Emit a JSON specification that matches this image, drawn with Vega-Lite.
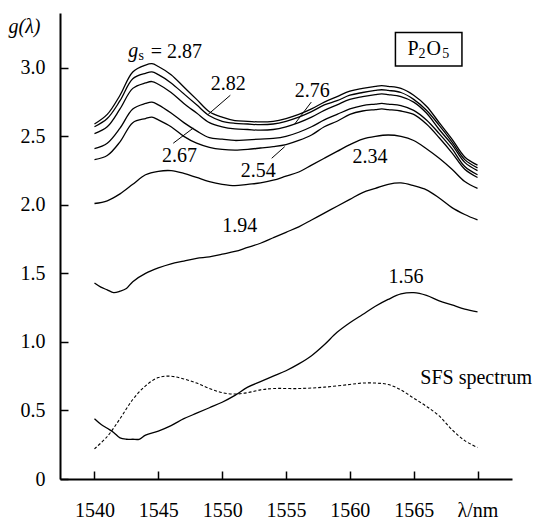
{
  "$schema": "https://vega.github.io/schema/vega-lite/v6.json",
  "width": 452,
  "height": 466,
  "autosize": {"type": "none"},
  "padding": {"left": 60, "top": 13, "right": 31, "bottom": 40},
  "background": "white",
  "config": {
    "view": {"stroke": null},
    "font": "Liberation Serif",
    "axis": {
      "domainColor": "black", "domainWidth": 2, "tickColor": "black", "tickWidth": 1.5,
      "tickSize": -8, "labelFontSize": 20, "labelColor": "black",
      "grid": false, "labelFlush": false, "labelOverlap": false,
      "titleColor": "black", "titleFontWeight": "normal"
    },
    "text": {"font": "Liberation Serif", "fontSize": 20, "color": "black"}
  },
  "datasets": {
    "curves": [
      {"s":"2.87","x":1540,"y":2.59},{"s":"2.87","x":1541,"y":2.66},{"s":"2.87","x":1542,"y":2.80},{"s":"2.87","x":1543,"y":2.97},{"s":"2.87","x":1544,"y":3.02},{"s":"2.87","x":1544.5,"y":3.03},{"s":"2.87","x":1545,"y":3.01},{"s":"2.87","x":1546,"y":2.95},{"s":"2.87","x":1547,"y":2.86},{"s":"2.87","x":1548,"y":2.77},{"s":"2.87","x":1549,"y":2.68},{"s":"2.87","x":1550,"y":2.64},{"s":"2.87","x":1551,"y":2.615},{"s":"2.87","x":1552,"y":2.61},{"s":"2.87","x":1553,"y":2.605},{"s":"2.87","x":1554,"y":2.61},{"s":"2.87","x":1555,"y":2.63},{"s":"2.87","x":1556,"y":2.66},{"s":"2.87","x":1557,"y":2.70},{"s":"2.87","x":1558,"y":2.75},{"s":"2.87","x":1559,"y":2.79},{"s":"2.87","x":1560,"y":2.83},{"s":"2.87","x":1561,"y":2.85},{"s":"2.87","x":1562,"y":2.865},{"s":"2.87","x":1562.5,"y":2.87},{"s":"2.87","x":1563,"y":2.865},{"s":"2.87","x":1564,"y":2.85},{"s":"2.87","x":1565,"y":2.80},{"s":"2.87","x":1566,"y":2.72},{"s":"2.87","x":1567,"y":2.60},{"s":"2.87","x":1568,"y":2.48},{"s":"2.87","x":1569,"y":2.35},{"s":"2.87","x":1570,"y":2.29},
      {"s":"2.82","x":1540,"y":2.57},{"s":"2.82","x":1541,"y":2.63},{"s":"2.82","x":1542,"y":2.76},{"s":"2.82","x":1543,"y":2.92},{"s":"2.82","x":1544,"y":2.96},{"s":"2.82","x":1544.5,"y":2.97},{"s":"2.82","x":1545,"y":2.95},{"s":"2.82","x":1546,"y":2.89},{"s":"2.82","x":1547,"y":2.81},{"s":"2.82","x":1548,"y":2.73},{"s":"2.82","x":1549,"y":2.65},{"s":"2.82","x":1550,"y":2.61},{"s":"2.82","x":1551,"y":2.595},{"s":"2.82","x":1552,"y":2.59},{"s":"2.82","x":1553,"y":2.585},{"s":"2.82","x":1554,"y":2.59},{"s":"2.82","x":1555,"y":2.61},{"s":"2.82","x":1556,"y":2.64},{"s":"2.82","x":1557,"y":2.68},{"s":"2.82","x":1558,"y":2.73},{"s":"2.82","x":1559,"y":2.76},{"s":"2.82","x":1560,"y":2.80},{"s":"2.82","x":1561,"y":2.82},{"s":"2.82","x":1562,"y":2.835},{"s":"2.82","x":1562.5,"y":2.84},{"s":"2.82","x":1563,"y":2.835},{"s":"2.82","x":1564,"y":2.82},{"s":"2.82","x":1565,"y":2.77},{"s":"2.82","x":1566,"y":2.69},{"s":"2.82","x":1567,"y":2.58},{"s":"2.82","x":1568,"y":2.46},{"s":"2.82","x":1569,"y":2.33},{"s":"2.82","x":1570,"y":2.27},
      {"s":"2.76","x":1540,"y":2.52},{"s":"2.76","x":1541,"y":2.57},{"s":"2.76","x":1542,"y":2.70},{"s":"2.76","x":1543,"y":2.85},{"s":"2.76","x":1544,"y":2.89},{"s":"2.76","x":1544.5,"y":2.90},{"s":"2.76","x":1545,"y":2.88},{"s":"2.76","x":1546,"y":2.82},{"s":"2.76","x":1547,"y":2.74},{"s":"2.76","x":1548,"y":2.67},{"s":"2.76","x":1549,"y":2.60},{"s":"2.76","x":1550,"y":2.57},{"s":"2.76","x":1551,"y":2.555},{"s":"2.76","x":1552,"y":2.55},{"s":"2.76","x":1553,"y":2.545},{"s":"2.76","x":1554,"y":2.55},{"s":"2.76","x":1555,"y":2.57},{"s":"2.76","x":1556,"y":2.60},{"s":"2.76","x":1557,"y":2.64},{"s":"2.76","x":1558,"y":2.69},{"s":"2.76","x":1559,"y":2.73},{"s":"2.76","x":1560,"y":2.77},{"s":"2.76","x":1561,"y":2.79},{"s":"2.76","x":1562,"y":2.805},{"s":"2.76","x":1562.5,"y":2.81},{"s":"2.76","x":1563,"y":2.805},{"s":"2.76","x":1564,"y":2.79},{"s":"2.76","x":1565,"y":2.75},{"s":"2.76","x":1566,"y":2.67},{"s":"2.76","x":1567,"y":2.55},{"s":"2.76","x":1568,"y":2.44},{"s":"2.76","x":1569,"y":2.31},{"s":"2.76","x":1570,"y":2.25},
      {"s":"2.67","x":1540,"y":2.41},{"s":"2.67","x":1541,"y":2.45},{"s":"2.67","x":1542,"y":2.56},{"s":"2.67","x":1543,"y":2.70},{"s":"2.67","x":1544,"y":2.74},{"s":"2.67","x":1544.5,"y":2.75},{"s":"2.67","x":1545,"y":2.73},{"s":"2.67","x":1546,"y":2.67},{"s":"2.67","x":1547,"y":2.60},{"s":"2.67","x":1548,"y":2.54},{"s":"2.67","x":1549,"y":2.49},{"s":"2.67","x":1550,"y":2.48},{"s":"2.67","x":1551,"y":2.47},{"s":"2.67","x":1552,"y":2.475},{"s":"2.67","x":1553,"y":2.48},{"s":"2.67","x":1554,"y":2.485},{"s":"2.67","x":1555,"y":2.50},{"s":"2.67","x":1556,"y":2.53},{"s":"2.67","x":1557,"y":2.57},{"s":"2.67","x":1558,"y":2.62},{"s":"2.67","x":1559,"y":2.66},{"s":"2.67","x":1560,"y":2.70},{"s":"2.67","x":1561,"y":2.725},{"s":"2.67","x":1562,"y":2.735},{"s":"2.67","x":1562.5,"y":2.74},{"s":"2.67","x":1563,"y":2.735},{"s":"2.67","x":1564,"y":2.725},{"s":"2.67","x":1565,"y":2.69},{"s":"2.67","x":1566,"y":2.62},{"s":"2.67","x":1567,"y":2.52},{"s":"2.67","x":1568,"y":2.41},{"s":"2.67","x":1569,"y":2.28},{"s":"2.67","x":1570,"y":2.22},
      {"s":"2.54","x":1540,"y":2.33},{"s":"2.54","x":1541,"y":2.36},{"s":"2.54","x":1542,"y":2.46},{"s":"2.54","x":1543,"y":2.60},{"s":"2.54","x":1544,"y":2.63},{"s":"2.54","x":1544.5,"y":2.64},{"s":"2.54","x":1545,"y":2.62},{"s":"2.54","x":1546,"y":2.57},{"s":"2.54","x":1547,"y":2.50},{"s":"2.54","x":1548,"y":2.45},{"s":"2.54","x":1549,"y":2.42},{"s":"2.54","x":1550,"y":2.405},{"s":"2.54","x":1551,"y":2.40},{"s":"2.54","x":1552,"y":2.405},{"s":"2.54","x":1553,"y":2.415},{"s":"2.54","x":1554,"y":2.425},{"s":"2.54","x":1555,"y":2.44},{"s":"2.54","x":1556,"y":2.47},{"s":"2.54","x":1557,"y":2.51},{"s":"2.54","x":1558,"y":2.57},{"s":"2.54","x":1559,"y":2.61},{"s":"2.54","x":1560,"y":2.66},{"s":"2.54","x":1561,"y":2.685},{"s":"2.54","x":1562,"y":2.695},{"s":"2.54","x":1562.5,"y":2.70},{"s":"2.54","x":1563,"y":2.695},{"s":"2.54","x":1564,"y":2.685},{"s":"2.54","x":1565,"y":2.66},{"s":"2.54","x":1566,"y":2.59},{"s":"2.54","x":1567,"y":2.49},{"s":"2.54","x":1568,"y":2.38},{"s":"2.54","x":1569,"y":2.26},{"s":"2.54","x":1570,"y":2.20},
      {"s":"2.34","x":1540,"y":2.01},{"s":"2.34","x":1541,"y":2.03},{"s":"2.34","x":1542,"y":2.08},{"s":"2.34","x":1543,"y":2.15},{"s":"2.34","x":1544,"y":2.22},{"s":"2.34","x":1545,"y":2.245},{"s":"2.34","x":1546,"y":2.25},{"s":"2.34","x":1547,"y":2.23},{"s":"2.34","x":1548,"y":2.20},{"s":"2.34","x":1549,"y":2.17},{"s":"2.34","x":1550,"y":2.15},{"s":"2.34","x":1551,"y":2.14},{"s":"2.34","x":1552,"y":2.15},{"s":"2.34","x":1553,"y":2.16},{"s":"2.34","x":1554,"y":2.18},{"s":"2.34","x":1555,"y":2.21},{"s":"2.34","x":1556,"y":2.24},{"s":"2.34","x":1557,"y":2.29},{"s":"2.34","x":1558,"y":2.34},{"s":"2.34","x":1559,"y":2.39},{"s":"2.34","x":1560,"y":2.44},{"s":"2.34","x":1561,"y":2.48},{"s":"2.34","x":1562,"y":2.50},{"s":"2.34","x":1563,"y":2.51},{"s":"2.34","x":1564,"y":2.50},{"s":"2.34","x":1565,"y":2.47},{"s":"2.34","x":1566,"y":2.41},{"s":"2.34","x":1567,"y":2.34},{"s":"2.34","x":1568,"y":2.26},{"s":"2.34","x":1569,"y":2.17},{"s":"2.34","x":1570,"y":2.12},
      {"s":"1.94","x":1540,"y":1.43},{"s":"1.94","x":1540.5,"y":1.40},{"s":"1.94","x":1541,"y":1.38},{"s":"1.94","x":1541.5,"y":1.36},{"s":"1.94","x":1542,"y":1.37},{"s":"1.94","x":1542.5,"y":1.39},{"s":"1.94","x":1543,"y":1.44},{"s":"1.94","x":1544,"y":1.50},{"s":"1.94","x":1545,"y":1.54},{"s":"1.94","x":1546,"y":1.57},{"s":"1.94","x":1547,"y":1.59},{"s":"1.94","x":1548,"y":1.61},{"s":"1.94","x":1549,"y":1.62},{"s":"1.94","x":1550,"y":1.64},{"s":"1.94","x":1551,"y":1.66},{"s":"1.94","x":1552,"y":1.69},{"s":"1.94","x":1553,"y":1.72},{"s":"1.94","x":1554,"y":1.76},{"s":"1.94","x":1555,"y":1.80},{"s":"1.94","x":1556,"y":1.84},{"s":"1.94","x":1557,"y":1.89},{"s":"1.94","x":1558,"y":1.94},{"s":"1.94","x":1559,"y":1.99},{"s":"1.94","x":1560,"y":2.04},{"s":"1.94","x":1561,"y":2.09},{"s":"1.94","x":1562,"y":2.12},{"s":"1.94","x":1563,"y":2.15},{"s":"1.94","x":1564,"y":2.16},{"s":"1.94","x":1565,"y":2.14},{"s":"1.94","x":1566,"y":2.11},{"s":"1.94","x":1567,"y":2.05},{"s":"1.94","x":1568,"y":1.98},{"s":"1.94","x":1569,"y":1.93},{"s":"1.94","x":1570,"y":1.89},
      {"s":"1.56","x":1540,"y":0.44},{"s":"1.56","x":1540.5,"y":0.40},{"s":"1.56","x":1541,"y":0.37},{"s":"1.56","x":1541.5,"y":0.34},{"s":"1.56","x":1542,"y":0.30},{"s":"1.56","x":1542.5,"y":0.29},{"s":"1.56","x":1543,"y":0.29},{"s":"1.56","x":1543.5,"y":0.29},{"s":"1.56","x":1544,"y":0.32},{"s":"1.56","x":1545,"y":0.35},{"s":"1.56","x":1546,"y":0.39},{"s":"1.56","x":1547,"y":0.44},{"s":"1.56","x":1548,"y":0.48},{"s":"1.56","x":1549,"y":0.52},{"s":"1.56","x":1550,"y":0.56},{"s":"1.56","x":1551,"y":0.61},{"s":"1.56","x":1552,"y":0.67},{"s":"1.56","x":1553,"y":0.71},{"s":"1.56","x":1554,"y":0.75},{"s":"1.56","x":1555,"y":0.79},{"s":"1.56","x":1556,"y":0.84},{"s":"1.56","x":1557,"y":0.90},{"s":"1.56","x":1558,"y":0.98},{"s":"1.56","x":1559,"y":1.07},{"s":"1.56","x":1560,"y":1.14},{"s":"1.56","x":1561,"y":1.20},{"s":"1.56","x":1562,"y":1.26},{"s":"1.56","x":1563,"y":1.31},{"s":"1.56","x":1564,"y":1.35},{"s":"1.56","x":1565,"y":1.36},{"s":"1.56","x":1566,"y":1.34},{"s":"1.56","x":1567,"y":1.30},{"s":"1.56","x":1568,"y":1.27},{"s":"1.56","x":1569,"y":1.24},{"s":"1.56","x":1570,"y":1.22}
    ],
    "sfs": [
      {"x":1540,"y":0.22},{"x":1541,"y":0.31},{"x":1542,"y":0.44},{"x":1543,"y":0.58},{"x":1544,"y":0.68},{"x":1545,"y":0.74},{"x":1546,"y":0.75},{"x":1547,"y":0.73},{"x":1548,"y":0.70},{"x":1549,"y":0.66},{"x":1550,"y":0.63},{"x":1551,"y":0.62},{"x":1552,"y":0.63},{"x":1553,"y":0.65},{"x":1554,"y":0.66},{"x":1556,"y":0.66},{"x":1558,"y":0.67},{"x":1560,"y":0.69},{"x":1561,"y":0.70},{"x":1562,"y":0.70},{"x":1563,"y":0.69},{"x":1564,"y":0.65},{"x":1565,"y":0.59},{"x":1566,"y":0.53},{"x":1567,"y":0.46},{"x":1568,"y":0.36},{"x":1569,"y":0.28},{"x":1570,"y":0.23}
    ],
    "pointers": [
      {"x":1550.64,"y":2.80,"x2":1548.9,"y2":2.66},
      {"x":1556.98,"y":2.75,"x2":1555.68,"y2":2.59},
      {"x":1546.17,"y":2.45,"x2":1547.73,"y2":2.56},
      {"x":1553.88,"y":2.34,"x2":1554.9,"y2":2.425}
    ],
    "labels": [
      {"t":"2.82","x":1550.48,"y":2.837},
      {"t":"2.76","x":1557.05,"y":2.79},
      {"t":"2.67","x":1546.66,"y":2.31},
      {"t":"2.54","x":1552.83,"y":2.20},
      {"t":"2.34","x":1561.58,"y":2.305},
      {"t":"1.94","x":1551.38,"y":1.805},
      {"t":"1.56","x":1564.4,"y":1.43}
    ],
    "leftlabels": [
      {"t":"= 2.87","x":1544.4,"y":3.07},
      {"t":"SFS spectrum","x":1565.52,"y":0.695},
      {"t":"P","x":1564.51,"y":3.0925},
      {"t":"O","x":1566.0,"y":3.0925}
    ],
    "italic": [{"t":"g","x":1542.64,"y":3.08}],
    "subs": [
      {"t":"s","x":1543.45,"y":3.06},
      {"t":"2","x":1565.37,"y":3.071},
      {"t":"5","x":1567.24,"y":3.071}
    ],
    "box": [{"x":1563.57,"x2":1568.78,"y":3.013,"y2":3.258}]
  },
  "layer": [
    {
      "data": {"name": "curves"},
      "mark": {"type": "line", "color": "black", "strokeWidth": 1.3, "interpolate": "catmull-rom"},
      "encoding": {
        "x": {"field": "x", "type": "quantitative",
          "scale": {"domain": [1537.3, 1572.7], "nice": false, "zero": false},
          "axis": {"values": [1540,1545,1550,1555,1560,1565,1570], "title": null, "labelPadding": 29,
            "labelFont": "Liberation Serif", "labelFontSize": 20, "format": "d",
            "labelExpr": "datum.value == 1570 ? 'λ/nm' : datum.label"}},
        "y": {"field": "y", "type": "quantitative",
          "scale": {"domain": [0, 3.4], "nice": false},
          "axis": {"values": [0,0.5,1,1.5,2,2.5,3], "labelPadding": 23,
            "labelFont": "Times New Roman", "labelFontSize": 20,
            "labelExpr": "datum.value == 0 ? '0' : format(datum.value, '.1f')",
            "title": "g(λ)", "titleAngle": 0, "titleX": -52, "titleY": 19, "titleAlign": "left",
            "titleFont": "Liberation Serif",
            "titleBaseline": "alphabetic", "titleFontSize": 20, "titleFontStyle": "italic"}},
        "detail": {"field": "s", "type": "nominal"}
      }
    },
    {
      "data": {"name": "sfs"},
      "mark": {"type": "line", "color": "black", "strokeWidth": 1.1, "strokeDash": [3, 2], "interpolate": "catmull-rom"},
      "encoding": {
        "x": {"field": "x", "type": "quantitative"},
        "y": {"field": "y", "type": "quantitative"}
      }
    },
    {
      "data": {"name": "pointers"},
      "mark": {"type": "rule", "color": "black", "strokeWidth": 1},
      "encoding": {
        "x": {"field": "x", "type": "quantitative"},
        "y": {"field": "y", "type": "quantitative"},
        "x2": {"field": "x2"},
        "y2": {"field": "y2"}
      }
    },
    {
      "data": {"name": "box"},
      "mark": {"type": "rect", "fillOpacity": 0, "stroke": "black", "strokeWidth": 1.5},
      "encoding": {
        "x": {"field": "x", "type": "quantitative"},
        "x2": {"field": "x2"},
        "y": {"field": "y", "type": "quantitative"},
        "y2": {"field": "y2"}
      }
    },
    {
      "data": {"name": "labels"},
      "mark": {"type": "text", "align": "center", "baseline": "alphabetic", "fontSize": 20},
      "encoding": {
        "x": {"field": "x", "type": "quantitative"},
        "y": {"field": "y", "type": "quantitative"},
        "text": {"field": "t"}
      }
    },
    {
      "data": {"name": "leftlabels"},
      "mark": {"type": "text", "align": "left", "baseline": "alphabetic", "fontSize": 20},
      "encoding": {
        "x": {"field": "x", "type": "quantitative"},
        "y": {"field": "y", "type": "quantitative"},
        "text": {"field": "t"}
      }
    },
    {
      "data": {"name": "italic"},
      "mark": {"type": "text", "align": "left", "baseline": "alphabetic", "fontSize": 20, "fontStyle": "italic"},
      "encoding": {
        "x": {"field": "x", "type": "quantitative"},
        "y": {"field": "y", "type": "quantitative"},
        "text": {"field": "t"}
      }
    },
    {
      "data": {"name": "subs"},
      "mark": {"type": "text", "align": "left", "baseline": "alphabetic", "fontSize": 14},
      "encoding": {
        "x": {"field": "x", "type": "quantitative"},
        "y": {"field": "y", "type": "quantitative"},
        "text": {"field": "t"}
      }
    }
  ]
}
